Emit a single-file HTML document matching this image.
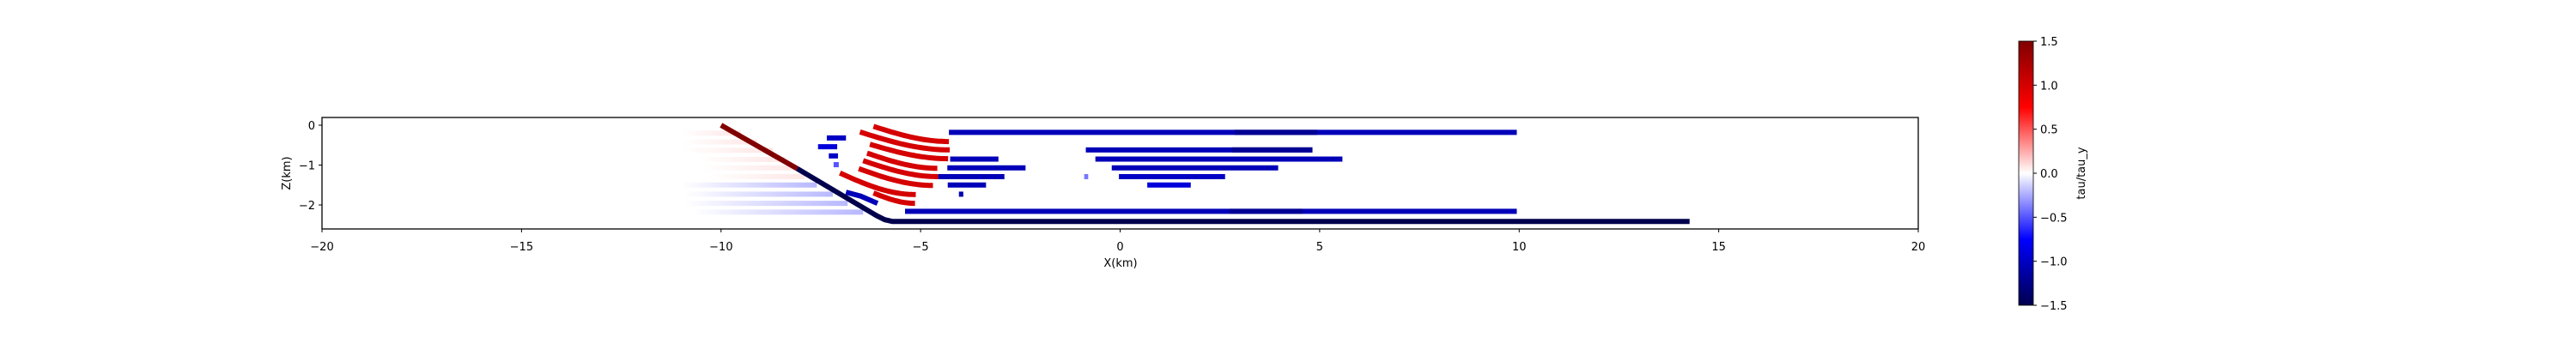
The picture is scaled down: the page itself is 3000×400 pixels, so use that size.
<!DOCTYPE html>
<html><head><meta charset="utf-8">
<style>
html,body{margin:0;padding:0;background:#fff;}
svg{display:block;font-family:"DejaVu Sans","Liberation Sans",sans-serif;}
</style></head>
<body>
<svg id="chart" width="3000" height="400" viewBox="0 0 3000 400" xmlns="http://www.w3.org/2000/svg">
<defs>
<linearGradient id="cbar" x1="0" y1="1" x2="0" y2="0">
<stop offset="0" stop-color="rgb(0,0,77)"/>
<stop offset="0.25" stop-color="rgb(0,0,255)"/>
<stop offset="0.5" stop-color="rgb(255,255,255)"/>
<stop offset="0.75" stop-color="rgb(255,0,0)"/>
<stop offset="1" stop-color="rgb(128,0,0)"/>
</linearGradient>
<linearGradient id="fadeRed" x1="0" x2="1"><stop offset="0" stop-color="#ff0000" stop-opacity="0"/><stop offset="1" stop-color="#ff0000" stop-opacity="0.1"/></linearGradient>
<linearGradient id="fadeBlue" x1="0" x2="1"><stop offset="0" stop-color="#0000ff" stop-opacity="0"/><stop offset="1" stop-color="#0000ff" stop-opacity="0.28"/></linearGradient>
<clipPath id="plotClip"><rect x="375" y="137" width="1859" height="130"/></clipPath>
</defs>
<g id="plot" clip-path="url(#plotClip)"></g>
<rect x="375" y="137" width="1859" height="130" fill="none" stroke="#000" stroke-width="1.3"/>
<g id="axes"></g>
<text x="1305" y="311" font-size="13" text-anchor="middle">X(km)</text>
<text transform="translate(338,202) rotate(-90)" font-size="13" text-anchor="middle">Z(km)</text>
<rect x="2351" y="48" width="17" height="308" fill="url(#cbar)" stroke="#000" stroke-width="0.8"/>
<g id="cbaxis"></g>
<text transform="translate(2428,202) rotate(-90)" font-size="13" text-anchor="middle">tau/tau_y</text>
</svg>
<script>
const xTicks=[-20,-15,-10,-5,0,5,10,15,20];
const zTicks=[0,-1,-2];
const cbTicks=[1.5,1.0,0.5,0.0,-0.5,-1.0,-1.5];
// fault
const faultX=[-10,-8.09,-6.1,-5.9,-5.7,14.27];
const faultZ=[0,-1.09,-2.27,-2.37,-2.415,-2.415];
const faultBreakX=-8.09;
// red arcs
const arcX0=[-6.18,-6.52,-6.27,-6.34,-6.44,-6.55,-7.02,-6.18];
const arcZ0=[-0.03,-0.17,-0.48,-0.70,-0.89,-1.09,-1.20,-1.70];
const arcX1=[-4.29,-4.27,-4.31,-4.58,-4.56,-4.69,-5.12,-5.14];
const arcZ1=[-0.41,-0.62,-0.84,-1.08,-1.29,-1.51,-1.74,-1.96];
const arcVal=[1.0,1.0,1.0,1.0,1.0,1.0,1.0,1.0];
// blue segments
const segX0=[-4.29,2.87,-0.86,2.8,-4.26,-0.62,-4.33,-0.21,-4.56,-0.03,-0.9,-4.32,0.68,-4.04,-5.39,2.74,-7.35,-7.57,-7.30,-7.18];
const segX1=[9.94,4.94,4.82,4.82,-3.05,5.57,-2.37,3.96,-2.9,2.63,-0.8,-3.36,1.77,-3.93,9.94,4.57,-6.87,-7.09,-7.07,-7.05];
const segZ=[-0.18,-0.18,-0.62,-0.62,-0.85,-0.85,-1.07,-1.07,-1.29,-1.29,-1.29,-1.5,-1.5,-1.73,-2.16,-2.16,-0.32,-0.54,-0.77,-0.99];
const segVal=[-1.05,-1.2,-1.05,-1.2,-1.05,-1.05,-1.05,-1.05,-1.05,-1.0,-0.4,-1.05,-0.9,-1.1,-1.05,-1.2,-1.0,-0.9,-1.0,-0.5];
// blue curved segment
const bcX=[-6.87,-6.5,-6.08];const bcZ=[-1.68,-1.78,-1.96];
// faint streaks
const fadeX0=[-11,-11,-11,-10.6,-10.5,-10.3,-11,-10.9,-10.9,-10.7];
const fadeX1=[-9.5,-9.1,-8.7,-8.4,-8.1,-7.9,-7.6,-7.2,-6.83,-6.44];
const fadeZ=[-0.2,-0.42,-0.63,-0.86,-1.07,-1.29,-1.5,-1.73,-1.96,-2.18];
const fadeSign=[1,1,1,1,1,1,-1,-1,-1,-1];

const X=v=>375+(v+20)*46.475;
const Z=v=>146-v*46.5;
const CB=v=>202-v*(308/3);
function seismic(v){let t=(v+1.5)/3;t=Math.max(0,Math.min(1,t));
 const s=[[0,0,0,77],[0.25,0,0,255],[0.5,255,255,255],[0.75,255,0,0],[1,128,0,0]];
 for(let i=0;i<4;i++){if(t<=s[i+1][0]){const f=(t-s[i][0])/(s[i+1][0]-s[i][0]);
 return `rgb(${[1,2,3].map(k=>Math.round(s[i][k]+f*(s[i+1][k]-s[i][k]))).join(',')})`;}}return 'rgb(128,0,0)';}
const NS='http://www.w3.org/2000/svg';
function mk(tag,attrs,parent){const e=document.createElementNS(NS,tag);for(const k in attrs)e.setAttribute(k,attrs[k]);parent.appendChild(e);return e;}
const plot=document.getElementById('plot'),axes=document.getElementById('axes'),cba=document.getElementById('cbaxis');

fadeZ.forEach((z,i)=>{const r=mk('rect',{x:X(fadeX0[i]),y:Z(z)-3,width:X(fadeX1[i])-X(fadeX0[i]),height:6,fill:fadeSign[i]>0?'url(#fadeRed)':'url(#fadeBlue)'},plot);

});

segZ.forEach((z,i)=>{const r=mk('rect',{x:X(segX0[i]),y:Z(z)-3,width:Math.max(4,X(segX1[i])-X(segX0[i])),height:6,fill:seismic(segVal[i])},plot);

});

arcX0.forEach((x0,i)=>{let pts=[];for(let k=0;k<=20;k++){const f=k/20;const x=x0+(arcX1[i]-x0)*f;const g=Math.sin(f*Math.PI/2);const z=arcZ0[i]+(arcZ1[i]-arcZ0[i])*g;pts.push(X(x).toFixed(1)+','+Z(z).toFixed(1));}
const p=mk('polyline',{points:pts.join(' '),fill:'none',stroke:seismic(arcVal[i]),'stroke-width':6},plot);

});

{const p=mk('polyline',{points:bcX.map((x,i)=>X(x)+','+Z(bcZ[i])).join(' '),fill:'none',stroke:seismic(-1.05),'stroke-width':6},plot);

}

{let red=[],blue=[];faultX.forEach((x,i)=>{if(x<=faultBreakX)red.push(X(x)+','+Z(faultZ[i]));if(x>=faultBreakX)blue.push(X(x)+','+Z(faultZ[i]));});
const a=mk('polyline',{points:red.join(' '),fill:'none',stroke:seismic(1.5),'stroke-width':6,'stroke-linejoin':'round'},plot);


const b=mk('polyline',{points:blue.join(' '),fill:'none',stroke:seismic(-1.5),'stroke-width':6,'stroke-linejoin':'round'},plot);

}

xTicks.forEach(v=>{const l=mk('line',{x1:X(v),x2:X(v),y1:267,y2:271,stroke:'#000'},axes);


const t=mk('text',{x:X(v),y:292,'font-size':13,'text-anchor':'middle'},axes);t.textContent=v<0?'\u2212'+(-v):String(v);

});
zTicks.forEach(v=>{const l=mk('line',{x1:371,x2:375,y1:Z(v),y2:Z(v),stroke:'#000'},axes);


const t=mk('text',{x:367,y:Z(v)+5,'font-size':13,'text-anchor':'end'},axes);t.textContent=v<0?'\u2212'+(-v):String(v);

});
cbTicks.forEach(v=>{const l=mk('line',{x1:2368,x2:2372,y1:CB(v),y2:CB(v),stroke:'#000'},cba);


const t=mk('text',{x:2376,y:CB(v)+5,'font-size':13},cba);t.textContent=(v<0?'\u2212':'')+Math.abs(v).toFixed(1);

});
</script>
</body></html>
